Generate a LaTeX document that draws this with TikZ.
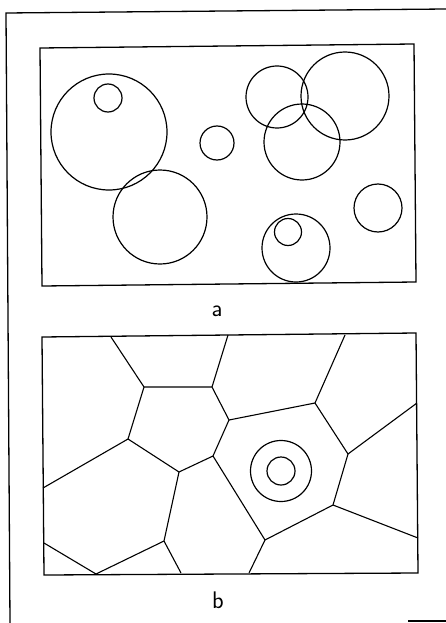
\documentclass[tikz,border=0pt]{standalone}
\usepackage{tikz}
\usetikzlibrary{positioning,calc}

\begin{document}
\begin{tikzpicture}[
    x=1pt, y=-1pt,
    frame/.style={line width=1.3pt},
    panel/.style={line width=1.3pt},
    ring/.style={line width=1.2pt},
    cell/.style={line width=1.1pt},
    tag/.style={font=\sffamily\fontsize{24}{24}\selectfont,inner sep=0pt},
  ]
  \useasboundingbox (0,0) rectangle (446,623);

  % --- outer frame (top, left, bottom right stub)
  \coordinate (ftr) at (446,9);
  \coordinate (ftl) at (6,13);
  \coordinate (fbl) at (10,623);
  \coordinate (fbr1) at (408,621);
  \coordinate (fbr2) at (446,621);
  \draw[frame] (ftr) -- (ftl) -- (fbl);
  \draw[frame] (fbr1) -- (fbr2);

  % --- panel a: box
  \coordinate (a1) at (40,48);
  \coordinate (a2) at (414,44);
  \coordinate (a3) at (416,282);
  \coordinate (a4) at (42,286);
  \draw[panel] (a1) -- (a2) -- (a3) -- (a4) -- cycle;

  % --- panel a: circles
  \coordinate (c1) at (109,132);
  \coordinate (c2) at (108,98);
  \coordinate (c3) at (160,217);
  \coordinate (c4) at (217,143);
  \coordinate (c5) at (277,97);
  \coordinate (c6) at (345,96);
  \coordinate (c7) at (302,142);
  \coordinate (c8) at (378,208);
  \coordinate (c9) at (296,248);
  \coordinate (c10) at (288,232);
  \draw[ring] (c1) circle (58);
  \draw[ring] (c2) circle (14);
  \draw[ring] (c3) circle (47);
  \draw[ring] (c4) circle (17);
  \draw[ring] (c5) circle (31);
  \draw[ring] (c6) circle (44);
  \draw[ring] (c7) circle (38);
  \draw[ring] (c8) circle (24);
  \draw[ring] (c9) circle (34);
  \draw[ring] (c10) circle (13.5);

  \node[tag] (la) at (217,311) {a};

  % --- panel b: box
  \coordinate (b1) at (42,337);
  \coordinate (b2) at (416,333);
  \coordinate (b3) at (418,573);
  \coordinate (b4) at (44,575);
  \draw[panel] (b1) -- (b2) -- (b3) -- (b4) -- cycle;

  % --- panel b: cell vertices
  \coordinate (t1) at (111,337);
  \coordinate (t2) at (228,335);
  \coordinate (t3) at (345,335);
  \coordinate (r1) at (417,403);
  \coordinate (r2) at (418,538);
  \coordinate (l1) at (43,488);
  \coordinate (l2) at (44,543);
  \coordinate (d1) at (96,574);
  \coordinate (d2) at (181,573);
  \coordinate (d3) at (249,573);
  \coordinate (v1) at (144,387);
  \coordinate (v2) at (212,387);
  \coordinate (v3) at (229,420);
  \coordinate (v4) at (315,403);
  \coordinate (v5) at (128,439);
  \coordinate (v6) at (213,456);
  \coordinate (v7) at (179,472);
  \coordinate (v8) at (348,454);
  \coordinate (v9) at (333,505);
  \coordinate (v10) at (265,540);
  \coordinate (v11) at (164,541);

  % --- panel b: cell edges
  \draw[cell] (t1) -- (v1) -- (v2) -- (v3) -- (v4) -- (v8) -- (v9) -- (v10) -- (v6) -- (v7) -- (v5) -- (v1);
  \draw[cell] (t2) -- (v2);
  \draw[cell] (t3) -- (v4);
  \draw[cell] (v3) -- (v6);
  \draw[cell] (v8) -- (r1);
  \draw[cell] (v9) -- (r2);
  \draw[cell] (v10) -- (d3);
  \draw[cell] (v5) -- (l1);
  \draw[cell] (v7) -- (v11) -- (d2);
  \draw[cell] (v11) -- (d1) -- (l2);

  % --- panel b: the rings
  \coordinate (cb) at (281,471);
  \draw[ring] (cb) circle (30.5);
  \draw[ring] (cb) circle (14);

  \node[tag] (lb) at (218,600) {b};

\end{tikzpicture}
\end{document}
